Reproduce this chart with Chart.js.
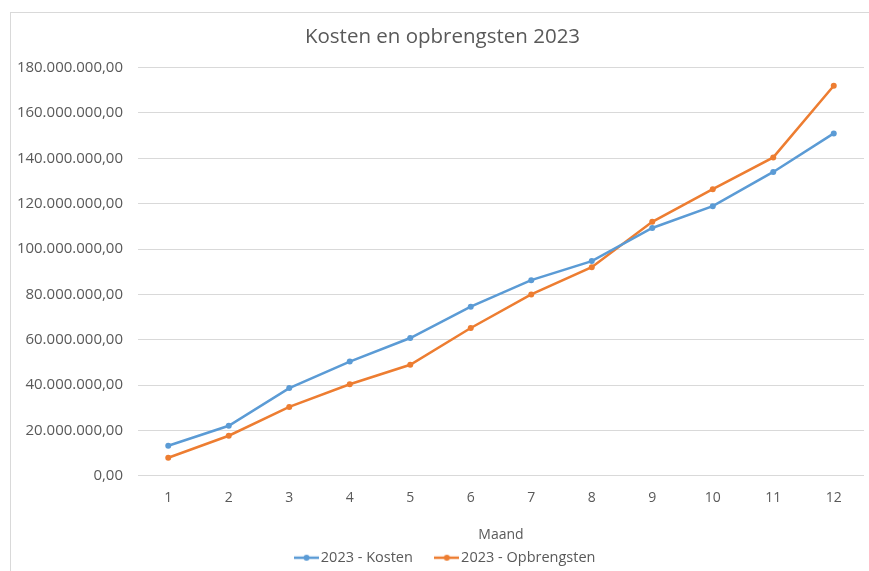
<!DOCTYPE html>
<html>
<head>
<meta charset="utf-8">
<title>Kosten en opbrengsten 2023</title>
<script src="https://cdn.jsdelivr.net/npm/chart.js@4"></script>
<style>
    html, body { margin: 0; padding: 0; background: #ffffff; overflow: hidden; }
    #frame {
        position: absolute;
        left: 10px;
        top: 12px;
        width: 870px;
        height: 570px;
        border-left: 1px solid #d9d9d9;
        border-top: 1px solid #d9d9d9;
    }
    #chart { display: block; }
</style>
</head>
<body>
<div id="frame"><canvas id="chart" width="858" height="558"></canvas></div>
<script>
    // ============================================================================
    // DATA
    // ============================================================================

    var months = ['1', '2', '3', '4', '5', '6', '7', '8', '9', '10', '11', '12'];
    var kosten = [13300000, 22100000, 38700000, 50400000, 60800000, 74600000,
                  86300000, 94700000, 109300000, 118900000, 134000000, 151000000];
    var opbrengsten = [8000000, 17700000, 30400000, 40400000, 49000000, 65200000,
                       80000000, 92000000, 112000000, 126400000, 140400000, 172000000];
    var seriesNames = ['2023 - Kosten', '2023 - Opbrengsten'];
    var chartTitle = 'Kosten en opbrengsten 2023';
    var xTitle = 'Maand';

    var BLUE = '#5b9bd5';
    var ORANGE = '#ed7d31';
    var TEXT = '#595959';
    var GRID = '#d9d9d9';

    // ============================================================================
    // HELPERS
    // ============================================================================

    // Dutch number format: 180.000.000,00
    function formatNL(value) {
        var parts = Math.round(value).toString().split('');
        var out = '';
        for (var i = 0; i < parts.length; i++) {
            if (i > 0 && (parts.length - i) % 3 === 0) out += '.';
            out += parts[i];
        }
        return out + ',00';
    }

    // legend marker: short line with a dot, like Excel
    function legendMarker(color) {
        var c = document.createElement('canvas');
        c.width = 25;
        c.height = 8;
        var g = c.getContext('2d');
        g.strokeStyle = color;
        g.lineWidth = 2.5;
        g.beginPath();
        g.moveTo(0, 4);
        g.lineTo(25, 4);
        g.stroke();
        g.fillStyle = color;
        g.beginPath();
        g.arc(12.5, 4, 3, 0, Math.PI * 2);
        g.fill();
        return c;
    }

    var markers = [legendMarker(BLUE), legendMarker(ORANGE)];

    // nudge title and legend boxes sideways, Excel centres them on the whole frame
    var nudgeBoxes = {
        id: 'nudgeBoxes',
        afterLayout: function(chart) {
            if (chart.titleBlock) {
                chart.titleBlock.left += 5;
                chart.titleBlock.right += 5;
            }
            if (chart.legend) {
                chart.legend.left += 10;
                chart.legend.right += 10;
            }
        }
    };

    // ============================================================================
    // CHART
    // ============================================================================

    Chart.defaults.font.family = "'Open Sans', 'DejaVu Sans', sans-serif";
    Chart.defaults.color = TEXT;

    function makeSeries(label, data, color) {
        return {
            label: label,
            data: data,
            borderColor: color,
            backgroundColor: color,
            borderWidth: 2.5,
            pointRadius: 3,
            pointHoverRadius: 3,
            pointBorderWidth: 0,
            tension: 0,
            fill: false
        };
    }

    new Chart(document.getElementById('chart'), {
        type: 'line',
        data: {
            labels: months,
            datasets: [
                makeSeries(seriesNames[0], kosten, BLUE),
                makeSeries(seriesNames[1], opbrengsten, ORANGE)
            ]
        },
        plugins: [nudgeBoxes],
        options: {
            responsive: false,
            animation: false,
            layout: {
                padding: { left: 0, right: 5, top: 0, bottom: -4 }
            },
            plugins: {
                title: {
                    display: true,
                    text: chartTitle,
                    color: TEXT,
                    font: { size: 20.5, weight: 'normal' },
                    padding: { top: 12, bottom: 18 }
                },
                legend: {
                    display: true,
                    position: 'bottom',
                    labels: {
                        color: TEXT,
                        font: { size: 14.5 },
                        usePointStyle: true,
                        pointStyleWidth: 14,
                        padding: 27,
                        generateLabels: function(chart) {
                            var items = Chart.defaults.plugins.legend.labels.generateLabels(chart);
                            items.forEach(function(item, i) {
                                item.pointStyle = markers[i];
                            });
                            return items;
                        }
                    }
                },
                tooltip: { enabled: false }
            },
            scales: {
                x: {
                    offset: true,
                    grid: { display: false, drawTicks: false },
                    border: { display: false },
                    ticks: { color: TEXT, font: { size: 14 }, padding: 14 },
                    title: {
                        display: true,
                        text: xTitle,
                        color: TEXT,
                        font: { size: 14 },
                        padding: { top: 6, bottom: -20 }
                    }
                },
                y: {
                    min: 0,
                    max: 180000000,
                    grid: { color: GRID, lineWidth: 1, drawTicks: false },
                    border: { display: false },
                    ticks: {
                        stepSize: 20000000,
                        color: TEXT,
                        font: { size: 15 },
                        padding: 15,
                        callback: function(value) { return formatNL(value); }
                    },
                    afterFit: function(scale) { scale.width = 127; }
                }
            }
        }
    });
</script>
</body>
</html>
